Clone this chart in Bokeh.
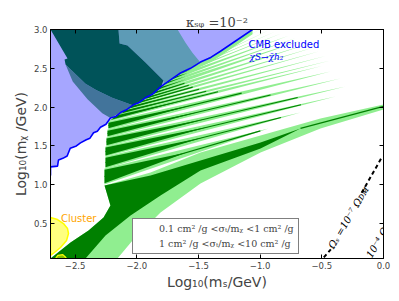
import numpy as np
from bokeh.plotting import figure
from bokeh.models import LinearAxis, FixedTicker, Legend, LegendItem, ColumnDataSource
from bokeh.core.properties import value
from bokeh.embed import file_html
from bokeh.resources import INLINE

# ---------------- data ----------------
x_ticks = [-2.5, -2.0, -1.5, -1.0, -0.5, 0.0]
x_tick_labels = ["\u22122.5", "\u22122.0", "\u22121.5", "\u22121.0", "\u22120.5", "0.0"]
y_ticks = [0.5, 1.0, 1.5, 2.0, 2.5, 3.0]
y_tick_labels = ["0.5", "1.0", "1.5", "2.0", "2.5", "3.0"]

# CMB exclusion boundary (chi S -> chi h2)
cmb_x = [-2.70, -2.70, -2.643, -2.635, -2.60, -2.565, -2.54, -2.49, -2.457, -2.41, -2.38, -2.351,
         -2.32, -2.295, -2.25, -2.214, -2.17, -2.132, -2.08, -2.027, -1.98, -1.93, -1.87, -1.808,
         -1.727, -1.646, -1.565, -1.484, -1.40, -1.322, -1.062]
cmb_y = [1.12, 1.23, 1.24, 1.32, 1.34, 1.37, 1.47, 1.50, 1.54, 1.58, 1.60, 1.67,
         1.69, 1.74, 1.78, 1.86, 1.88, 1.93, 1.97, 2.03, 2.06, 2.12, 2.17, 2.26,
         2.35, 2.44, 2.50, 2.58, 2.64, 2.72, 3.00]

# solid 0.1-1 cm^2/g strip right below the CMB line (x start, x end, thickness)
strip_x0, strip_x1, strip_dy = -2.12, -1.10, 0.06

# main (lowest) resonance band: 0.1-1 and 1-10 cm^2/g
band_light_x = [-2.70, -2.538, -2.392, -2.270, -2.214, -2.262, -1.889, -1.484, -0.997, -0.511, 0.0,
                0.0, -0.511, -0.997, -1.484, -1.808, -2.035, -2.157]
band_light_y = [0.05, 0.256, 0.411, 0.578, 0.733, 0.99, 1.158, 1.415, 1.634, 1.853, 2.034,
                1.97, 1.725, 1.415, 1.016, 0.643, 0.282, 0.05]
band_dark_x = [-2.70, -2.538, -2.392, -2.270, -2.214, -2.262, -1.889, -1.484, -0.997, -0.673,
               -0.997, -1.484, -1.808, -2.051, -2.254, -2.416]
band_dark_y = [0.05, 0.256, 0.411, 0.578, 0.733, 0.99, 1.119, 1.312, 1.544, 1.725,
               1.467, 1.184, 0.862, 0.604, 0.346, 0.05]
band_core_x = [-0.673, 0.0]
band_core_y = [1.725, 2.01]

# resonance fingers (left edge x, top/bottom y at left edge, tip x/y);
# fingers flagged "on_cmb" start right at the CMB boundary
fin_xl = [-2.262, -2.254, -2.254, -2.246, -2.238, -2.230, -2.214, -2.17, -2.11, -2.05,
          -1.99, -1.93, -1.87, -1.81, -1.75, -1.69, -1.63, -1.57, -1.50, -1.42]
fin_on_cmb = [0, 0, 0, 0, 0, 0, 1, 1, 1, 1, 1, 1, 1, 1, 1, 1, 1, 1, 1, 1]
fin_yt = [1.209, 1.364, 1.493, 1.609, 1.712, 1.815, 1.918, 1.98, 2.04, 2.10,
          2.16, 2.22, 2.29, 2.35, 2.42, 2.48, 2.54, 2.60, 2.68, 2.78]
fin_yb = [1.003, 1.209, 1.364, 1.493, 1.609, 1.712, 1.815, 1.90, 1.96, 2.02,
          2.08, 2.14, 2.20, 2.27, 2.33, 2.40, 2.46, 2.52, 2.58, 2.66]
fin_xt = [-0.932, -0.673, -0.389, -0.308, -0.349, -0.430, -0.50, -0.43, -0.47, -0.52,
          -0.56, -0.60, -0.66, -0.71, -0.77, -0.83, -0.88, -0.93, -0.98, -1.02]
fin_ytip = [1.725, 1.931, 2.137, 2.266, 2.369, 2.459, 2.53, 2.60, 2.66, 2.72,
            2.77, 2.82, 2.86, 2.89, 2.92, 2.95, 2.97, 2.99, 3.02, 3.05]
fin_dark_len = [0.5, 0.5, 0.45, 0.42, 0.4, 0.38, 0.35, 0.3, 0.28, 0.25, 0.22, 0.2,
                0.18, 0.15, 0.12, 0.1, 0.1, 0.08, 0.06, 0.05]
fin_dark_wid = [0.85, 0.8, 0.8, 0.75, 0.7, 0.7, 0.65, 0.6, 0.55, 0.5, 0.5, 0.45,
                0.4, 0.4, 0.4, 0.3, 0.3, 0.3, 0.3, 0.3]
fin_core_len = [0.95, 0.9, 0.85, 0.8, 0.7, 0.6, 0.5, 0.4, 0.35, 0.3, 0.25, 0.2,
                0.0, 0.0, 0.0, 0.0, 0.0, 0.0, 0.0, 0.0]

# regions above the CMB line (seen through the excluded shading)
up_dark_x = [-2.70, -2.149, -2.140, -2.076, -1.93, -1.784, -1.808, -2.027, -2.20, -2.33,
             -2.416, -2.578, -2.586, -2.562]
up_dark_y = [3.00, 3.00, 2.82, 2.794, 2.575, 2.343, 2.24, 2.021, 2.12, 2.22,
             2.30, 2.549, 2.613, 2.626]
up_fringe_x = [-2.578, -2.416, -2.33, -2.20, -2.027, -2.214, -2.28, -2.40, -2.52]
up_fringe_y = [2.549, 2.30, 2.22, 2.12, 2.021, 1.86, 1.92, 2.10, 2.33]
up_light_x = [-2.149, -1.670, -1.605, -1.549, -1.484, -1.646, -1.727, -1.784,
              -1.784, -1.93, -2.076, -2.140]
up_light_y = [3.00, 3.00, 2.83, 2.70, 2.575, 2.44, 2.35, 2.29,
              2.343, 2.575, 2.794, 2.82]

# cluster constraint
cluster_x = [-2.70, -2.643, -2.595, -2.562, -2.554, -2.57, -2.619, -2.668, -2.70]
cluster_y = [0.578, 0.552, 0.50, 0.436, 0.372, 0.282, 0.192, 0.127, 0.089]
cluster2_x = [-2.66, -2.64, -2.60, -2.58, -2.57]
cluster2_y = [0.05, 0.09, 0.10, 0.07, 0.05]

# Omega_S = 1e-7 Omega_DM line (two pieces around its label)
om_x1 = [-0.484, -0.427]
om_y1 = [0.064, 0.167]
om_x2 = [-0.177, -0.016]
om_y2 = [0.897, 1.346]

LIGHT = "#90ee90"
DARK = "#008000"

p = figure(x_range=(-2.7, 0.0), y_range=(0.05, 3.0), frame_width=333, frame_height=229,
           output_backend="svg", toolbar_location=None,
           min_border_left=50, min_border_top=29, min_border_right=10, min_border_bottom=35)
p.xgrid.visible = False
p.ygrid.visible = False
p.outline_line_color = "black"
p.background_fill_color = "white"

# ----- green resonance regions -----
lx, ly, dx, dy, cx, cy = [], [], [], [], [], []
for i in range(len(fin_xl)):
    yt, yb, xt, ytp = fin_yt[i], fin_yb[i], fin_xt[i], fin_ytip[i]
    if fin_on_cmb[i]:
        xa = float(np.interp(yt, cmb_y, cmb_x)) + 0.004
        xb = float(np.interp(yb, cmb_y, cmb_x)) + 0.004
    else:
        xa = xb = fin_xl[i]
    lx.append([xa, xt, xb]); ly.append([yt, ytp, yb])
    xc, yc = 0.5 * (xa + xb), 0.5 * (yt + yb)
    w = fin_dark_wid[i]
    f = fin_dark_len[i]
    dx.append([xc + w * (xa - xc), xc + f * (xt - xc), xc + w * (xb - xc)])
    dy.append([yc + w * (yt - yc), yc + f * (ytp - yc), yc + w * (yb - yc)])
    g = fin_core_len[i]
    if g > 0:
        cx.append([xc, xc + g * (xt - xc)]); cy.append([yc, yc + g * (ytp - yc)])

# strip just under the CMB line
sel = [(a, b) for a, b in zip(cmb_x, cmb_y) if strip_x0 <= a <= strip_x1 + 0.05]
sx = [a for a, b in sel]
sy = [b for a, b in sel]
strip_x = sx + sx[::-1]
strip_y = sy + [b - strip_dy for b in sy[::-1]]

p.patch(up_light_x, up_light_y, fill_color=LIGHT, line_color=None)
p.patches(lx, ly, fill_color=LIGHT, line_color=None)
p.patch(strip_x, strip_y, fill_color=LIGHT, line_color=None)
p.patch(band_light_x, band_light_y, fill_color=LIGHT, line_color=None)
p.patches(dx, dy, fill_color=DARK, line_color=None)
p.multi_line(cx, cy, line_color=DARK, line_width=1.1)
p.patch(band_dark_x, band_dark_y, fill_color=DARK, line_color=None)
p.line(band_core_x, band_core_y, line_color=DARK, line_width=1.3)
p.patch(up_dark_x, up_dark_y, fill_color=DARK, line_color=None)
p.patch(up_fringe_x, up_fringe_y, fill_color=DARK, fill_alpha=0.6, line_color=None)

# ----- CMB excluded region -----
blue_x = cmb_x + [-2.70]
blue_y = cmb_y + [3.00]
p.patch(blue_x, blue_y, fill_color="blue", fill_alpha=0.35, line_color=None)
p.line(cmb_x, cmb_y, line_color="blue", line_width=1.6)

# ----- cluster -----
p.patch(cluster_x, cluster_y, fill_color="yellow", fill_alpha=0.5, line_color="yellow", line_width=1.5)
p.patch(cluster2_x, cluster2_y, fill_color="yellow", fill_alpha=0.5, line_color="yellow", line_width=1.2)

# ----- Omega lines -----
p.line(om_x1, om_y1, line_color="black", line_width=2, line_dash="4 3")
p.line(om_x2, om_y2, line_color="black", line_width=2, line_dash="4 3")

# ----- texts -----
p.text(x=[-2.615], y=[0.565], text=["Cluster"], text_color="#ffa500",
       text_font=value("DejaVu Sans"), text_font_size="10px", text_baseline="middle")
p.text(x=[-1.095], y=[2.807], text=["CMB excluded"], text_color="blue",
       text_font=value("DejaVu Sans"), text_font_size="10px", text_baseline="middle")
p.text(x=[-1.087], y=[2.64], text=["\u03c7S\u2192\u03c7\u0304h\u2082"], text_color="blue",
       text_font=value("DejaVu Serif"), text_font_style="italic", text_font_size="9px",
       text_baseline="middle")
p.text(x=[-0.284], y=[0.578], text=["\u03a9\u209b =10\u207b\u2077 \u03a9\u1d05\u1d0d"],
       angle=1.04, text_color="black", text_font=value("DejaVu Serif"),
       text_font_style="italic", text_font_size="10px", text_align="center", text_baseline="middle")
p.text(x=[-0.12], y=[0.07], text=["10\u207b\u2074 \u03a9"],
       angle=1.04, text_color="black", text_font=value("DejaVu Serif"),
       text_font_style="italic", text_font_size="10px", text_align="left", text_baseline="middle")

# ----- axes -----
def style_axis(ax, ticks, labels, show_labels=True):
    ax.ticker = FixedTicker(ticks=ticks)
    if show_labels:
        ax.major_label_overrides = {t: l for t, l in zip(ticks, labels)}
    else:
        ax.major_label_overrides = {t: "" for t in ticks}
    ax.major_tick_in = 4
    ax.major_tick_out = 0
    ax.minor_tick_line_color = None
    ax.major_tick_line_color = "black"
    ax.axis_line_color = "black"
    ax.major_label_text_font = "DejaVu Sans"
    ax.major_label_text_font_size = "8.5px"
    ax.major_label_standoff = 3 if show_labels else 0

style_axis(p.xaxis[0], x_ticks, x_tick_labels)
style_axis(p.yaxis[0], y_ticks, y_tick_labels)
p.xaxis.axis_label = "Log\u2081\u2080(m\u209b/GeV)"
p.yaxis.axis_label = "Log\u2081\u2080(m\u1d6a /GeV)"
for ax in (p.xaxis[0], p.yaxis[0]):
    ax.axis_label_text_font = "DejaVu Sans"
    ax.axis_label_text_font_size = "14px"
    ax.axis_label_text_font_style = "normal"
    ax.axis_label_standoff = 2

top = LinearAxis()
style_axis(top, x_ticks, x_tick_labels, show_labels=False)
p.add_layout(top, "above")
right = LinearAxis()
style_axis(right, y_ticks, y_tick_labels, show_labels=False)
p.add_layout(right, "right")

p.title.text = "\u03ba\u209b\u1d69 =10\u207b\u00b2"
p.title.align = "center"
p.title.text_font = "DejaVu Serif"
p.title.text_font_style = "normal"
p.title.text_font_size = "13px"
p.title.standoff = 0

# ----- legend -----
src_empty = ColumnDataSource(dict(l=[], r=[], t=[], b=[]))
r1 = p.quad(left="l", right="r", top="t", bottom="b", source=src_empty,
            fill_color=LIGHT, line_color="black", line_width=1)
r2 = p.quad(left="l", right="r", top="t", bottom="b", source=src_empty,
            fill_color=DARK, line_color="black", line_width=1)
legend = Legend(items=[
    LegendItem(label="0.1 cm\u00b2 /g <\u03c3\u209c/m\u1d6a <1 cm\u00b2 /g", renderers=[r1]),
    LegendItem(label="1 cm\u00b2 /g <\u03c3\u209c/m\u1d6a <10 cm\u00b2 /g", renderers=[r2]),
], location=(82, 4))
legend.label_text_font = "DejaVu Serif"
legend.label_text_font_size = "9.5px"
legend.glyph_width = 18
legend.glyph_height = 7
legend.label_height = 11
legend.label_standoff = 4
legend.spacing = 4
legend.padding = 4
legend.margin = 0
legend.border_line_color = "black"
legend.border_line_width = 1
legend.background_fill_color = "white"
legend.background_fill_alpha = 1.0
p.add_layout(legend)

open("out.html", "w").write(file_html(p, INLINE))
